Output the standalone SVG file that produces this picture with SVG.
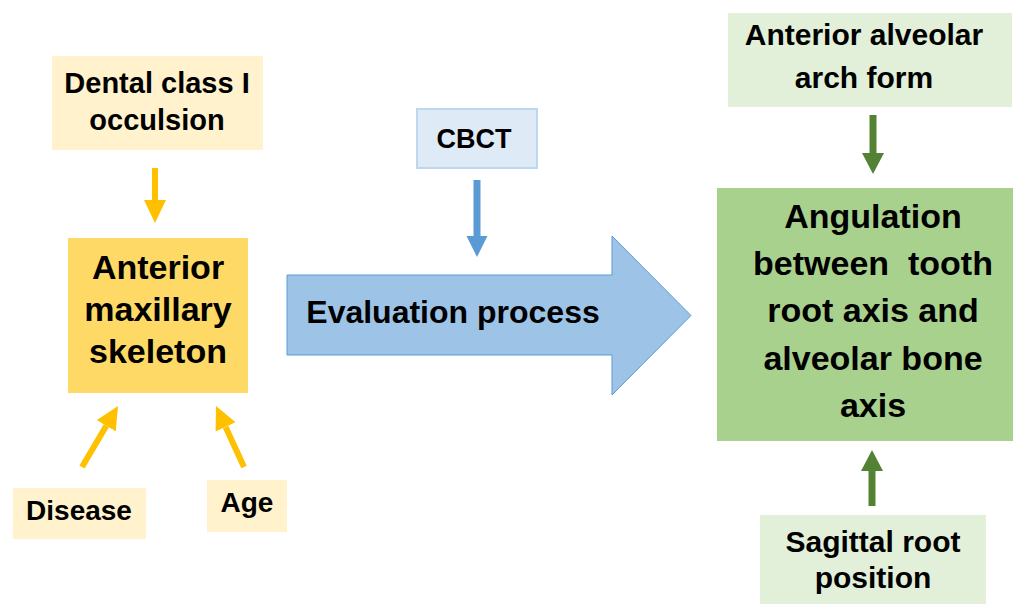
<svg xmlns="http://www.w3.org/2000/svg" width="1013" height="604" viewBox="0 0 1013 604">
<style>
text{font-family:"Liberation Sans",Arial,sans-serif;font-weight:bold;fill:#000;text-anchor:middle}
.lt-y{fill:#FFF2CC}
.dk-y{fill:#FFD966}
.lt-g{fill:#E2F0D9}
.dk-g{fill:#A9D18E}
.cbct{fill:#DEEBF7;stroke:#BDD7EE;stroke-width:2}
.big{fill:#9DC3E6;stroke:#5B9BD5;stroke-width:1}
.ay{stroke:#FFC000;stroke-width:6;fill:none}
.ab{stroke:#5B9BD5;stroke-width:7;fill:none}
.ag{stroke:#548235;stroke-width:7;fill:none}
</style>
<defs>
<marker id="hy" markerUnits="userSpaceOnUse" markerWidth="24" markerHeight="24" refX="0" refY="11" orient="auto"><path d="M0,0 L23,11 L0,22 z" fill="#FFC000"/></marker>
<marker id="hb" markerUnits="userSpaceOnUse" markerWidth="24" markerHeight="24" refX="0" refY="11" orient="auto"><path d="M0,0.5 L21,11 L0,21.5 z" fill="#5B9BD5"/></marker>
<marker id="hg" markerUnits="userSpaceOnUse" markerWidth="24" markerHeight="24" refX="0" refY="11" orient="auto"><path d="M0,0 L21,11 L0,22 z" fill="#548235"/></marker>
</defs>
<rect width="1013" height="604" fill="#fff"/>
<g id="connectors">
<line class="ay" x1="155" y1="168" x2="155" y2="200" marker-end="url(#hy)"/>
<line class="ay" x1="82" y1="467" x2="106.3" y2="425.8" marker-end="url(#hy)"/>
<line class="ay" x1="244" y1="467" x2="225.6" y2="426.9" marker-end="url(#hy)"/>
<line class="ab" x1="477" y1="180" x2="477" y2="236" marker-end="url(#hb)"/>
<line class="ag" x1="873" y1="115" x2="873" y2="153" marker-end="url(#hg)"/>
<line class="ag" x1="872" y1="506" x2="872" y2="471" marker-end="url(#hg)"/>
</g>
<g id="dental">
<rect class="lt-y" x="52" y="56" width="211" height="94"/>
<text font-size="29"><tspan x="157" y="93">Dental class I</tspan><tspan x="157" y="130">occulsion</tspan></text>
</g>
<g id="skeleton">
<rect class="dk-y" x="68" y="238" width="180" height="155"/>
<text font-size="34"><tspan x="158" y="279">Anterior</tspan><tspan x="158" y="321">maxillary</tspan><tspan x="158" y="363">skeleton</tspan></text>
</g>
<g id="disease">
<rect class="lt-y" x="13" y="488" width="133" height="51"/>
<text font-size="28" x="79" y="520">Disease</text>
</g>
<g id="age">
<rect class="lt-y" x="207" y="480" width="80" height="52"/>
<text font-size="28" x="247" y="512">Age</text>
</g>
<g id="cbct">
<rect class="cbct" x="417" y="109" width="120" height="59"/>
<text font-size="27" x="474" y="148">CBCT</text>
</g>
<g id="evaluation">
<polygon class="big" points="287,275 612,275 612,236 691,315.5 612,395 612,355 287,355"/>
<text font-size="32" x="453" y="323">Evaluation process</text>
</g>
<g id="arch">
<rect class="lt-g" x="728" y="13" width="284" height="94"/>
<text font-size="30"><tspan x="864" y="45">Anterior alveolar</tspan><tspan x="864" y="88">arch form</tspan></text>
</g>
<g id="angulation">
<rect class="dk-g" x="717" y="188" width="296" height="253"/>
<text font-size="34" xml:space="preserve"><tspan x="873" y="228">Angulation</tspan><tspan x="873" y="275">between  tooth</tspan><tspan x="873" y="322">root axis and</tspan><tspan x="873" y="370">alveolar bone</tspan><tspan x="873" y="417">axis</tspan></text>
</g>
<g id="sagittal">
<rect class="lt-g" x="760" y="515" width="226" height="89"/>
<text font-size="30"><tspan x="873" y="552">Sagittal root</tspan><tspan x="873" y="588">position</tspan></text>
</g>
</svg>
